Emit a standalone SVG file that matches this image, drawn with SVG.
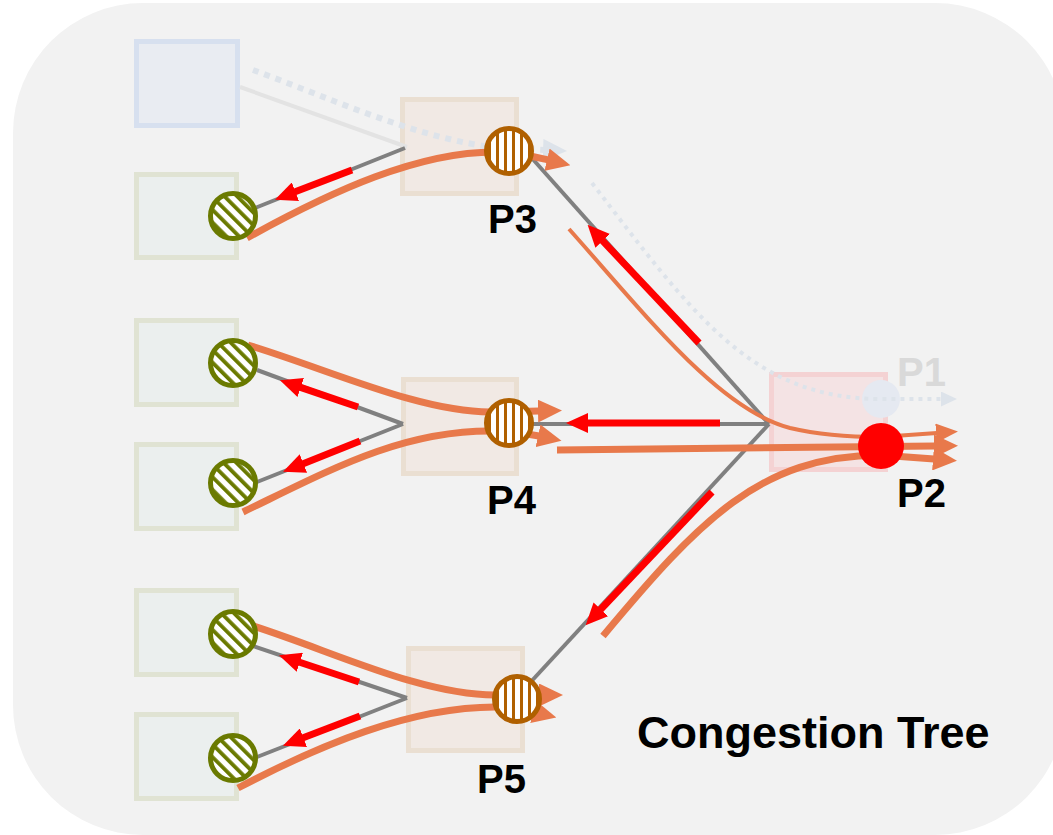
<svg xmlns="http://www.w3.org/2000/svg" width="1053" height="835" viewBox="0 0 1053 835">
  <style>
    .host { fill: #ebefee; stroke: #e0e3d3; stroke-width: 5; }
    .switch { fill: #f1e9e4; stroke: #eadfd2; stroke-width: 5; }
    .link { fill: none; stroke: #808080; stroke-width: 4; }
    .flow { fill: none; stroke: #e8794b; stroke-width: 7; }
    .flow-thin { fill: none; stroke: #e8794b; stroke-width: 4; }
    .pause { fill: none; stroke: #ff0000; stroke-width: 7; }
    .host-port { fill: url(#hatch-host); stroke: #6a7a00; stroke-width: 5; }
    .sw-port { fill: url(#hatch-port); stroke: #b06000; stroke-width: 5; }
    .label { font-family: "Liberation Sans", Arial, sans-serif; font-weight: bold; font-size: 40px; fill: #000; }
  </style>
  <defs>
    <pattern id="hatch-host" patternUnits="userSpaceOnUse" width="9" height="9" patternTransform="rotate(-45)">
      <rect width="9" height="9" fill="#ffffff"/>
      <rect width="3.8" height="9" fill="#6a7a00"/>
    </pattern>
    <pattern id="hatch-port" patternUnits="userSpaceOnUse" width="8" height="8">
      <rect width="8" height="8" fill="#ffffff"/>
      <rect width="3" height="8" fill="#b06000"/>
    </pattern>
    <marker id="arrow-flow" markerUnits="userSpaceOnUse" viewBox="0 0 24 23" markerWidth="24" markerHeight="23" refX="1" refY="11.5" orient="auto">
      <path d="M0,0 L24,11.5 L0,23 Z" fill="#e8794b"/>
    </marker>
    <marker id="arrow-flow-sm" markerUnits="userSpaceOnUse" viewBox="0 0 22 19" markerWidth="22" markerHeight="19" refX="1" refY="9.5" orient="auto">
      <path d="M0,0 L22,9.5 L0,19 Z" fill="#e8794b"/>
    </marker>
    <marker id="arrow-pause" markerUnits="userSpaceOnUse" viewBox="0 0 22 20" markerWidth="22" markerHeight="20" refX="1" refY="10" orient="auto">
      <path d="M0,0 L22,10 L0,20 Z" fill="#ff0000"/>
    </marker>
    <marker id="arrow-faded" markerUnits="userSpaceOnUse" viewBox="0 0 24 22" markerWidth="24" markerHeight="22" refX="1" refY="11" orient="auto">
      <path d="M0,0 L24,11 L0,22 Z" fill="#dde3ea"/>
    </marker>
    <marker id="arrow-faded-sm" markerUnits="userSpaceOnUse" viewBox="0 0 16 15" markerWidth="16" markerHeight="15" refX="1" refY="7.5" orient="auto">
      <path d="M0,0 L16,7.5 L0,15 Z" fill="#dde3ea"/>
    </marker>
  </defs>

  <!-- panel -->
  <rect x="13" y="3" width="1052" height="832" rx="130" ry="130" fill="#f2f2f2"/>

  <!-- hosts -->
  <g id="host-idle">
    <rect x="136.5" y="41.5" width="101" height="84" fill="#e9ecf2" stroke="#d7e0ef" stroke-width="5"/>
  </g>
  <g id="host-1"><rect class="host" x="136.5" y="174.5" width="100" height="83"/></g>
  <g id="host-2"><rect class="host" x="136.5" y="320.5" width="100" height="84"/></g>
  <g id="host-3"><rect class="host" x="136.5" y="444.5" width="100" height="84"/></g>
  <g id="host-4"><rect class="host" x="136.5" y="590.5" width="100" height="84"/></g>
  <g id="host-5"><rect class="host" x="136.5" y="714.5" width="100" height="84"/></g>

  <!-- switches -->
  <g id="switch-p3"><rect class="switch" x="402.5" y="99.5" width="114" height="94"/></g>
  <g id="switch-p4"><rect class="switch" x="403.5" y="379.5" width="113" height="94"/></g>
  <g id="switch-p5"><rect class="switch" x="408.5" y="648.5" width="114" height="102"/></g>
  <g id="switch-root">
    <rect x="771.5" y="374.5" width="114" height="95" fill="#f4e3e4" stroke="#f4d2d3" stroke-width="5"/>
    <circle id="port-p1" cx="881" cy="399" r="19" fill="#e5e9f1"/>
  </g>

  <g id="connectors">
    <!-- idle path (faded) -->
    <line x1="240" y1="87" x2="407" y2="147" stroke="#e3e3e3" stroke-width="4"/>
    <path d="M253,70 C330,98 420,140 500,148 L544,150" fill="none" stroke="#dde3ea" stroke-width="6" stroke-dasharray="6 6" marker-end="url(#arrow-faded)"/>
    <path d="M592,183 C690,310 750,399 881,399 L942,399" fill="none" stroke="#dde3ea" stroke-width="4" stroke-dasharray="4 5" marker-end="url(#arrow-faded-sm)"/>

    <!-- links -->
    <line class="link" x1="405" y1="148" x2="255" y2="208"/>
    <line class="link" x1="530" y1="156" x2="769" y2="424"/>
    <line class="link" x1="509" y1="424" x2="769" y2="424"/>
    <line class="link" x1="769" y1="424" x2="515" y2="699"/>
    <line class="link" x1="403" y1="424" x2="257" y2="370"/>
    <line class="link" x1="403" y1="424" x2="257" y2="482"/>
    <line class="link" x1="407" y1="698" x2="253" y2="646"/>
    <line class="link" x1="407" y1="698" x2="257" y2="757"/>

    <!-- flows -->
    <path class="flow" d="M247,238 C330,192 420,150 500,152 C520,153 535,157 548,160" marker-end="url(#arrow-flow)"/>
    <path class="flow" d="M248,345 C330,370 420,412 490,412 L539,411" marker-end="url(#arrow-flow)"/>
    <path class="flow" d="M243,512 C330,470 400,431 490,431 C510,431 525,433 539,436" marker-end="url(#arrow-flow)"/>
    <path class="flow" d="M250,625 C330,650 420,695 495,695 L540,695" marker-end="url(#arrow-flow)"/>
    <path class="flow" d="M238,788 C320,745 410,707 495,707 C510,707 522,709 534,712" marker-end="url(#arrow-flow)"/>
    <path class="flow-thin" d="M569,229 C650,320 720,410 790,428 C820,435 850,437 880,437 L937,433" marker-end="url(#arrow-flow-sm)"/>
    <path class="flow" d="M557,450 L935,446" marker-end="url(#arrow-flow)"/>
    <path class="flow" d="M603,636 C700,520 760,456 880,455 L934,459" marker-end="url(#arrow-flow)"/>

    <!-- pause back-pressure -->
    <line class="pause" x1="352" y1="170" x2="294.5" y2="192.1" marker-end="url(#arrow-pause)"/>
    <line class="pause" x1="699" y1="343" x2="602" y2="240.1" marker-end="url(#arrow-pause)"/>
    <line class="pause" x1="720" y1="423" x2="587" y2="423" marker-end="url(#arrow-pause)"/>
    <line class="pause" x1="712" y1="492" x2="600.1" y2="610" marker-end="url(#arrow-pause)"/>
    <line class="pause" x1="358" y1="407" x2="299.8" y2="387.1" marker-end="url(#arrow-pause)"/>
    <line class="pause" x1="360" y1="441" x2="302.5" y2="463.9" marker-end="url(#arrow-pause)"/>
    <line class="pause" x1="359" y1="682" x2="298.9" y2="662" marker-end="url(#arrow-pause)"/>
    <line class="pause" x1="360" y1="716" x2="302.5" y2="738.1" marker-end="url(#arrow-pause)"/>
  </g>

  <!-- host ports -->
  <g id="nic-1"><circle class="host-port" cx="233" cy="216" r="22.5"/></g>
  <g id="nic-2"><circle class="host-port" cx="233" cy="363" r="22.5"/></g>
  <g id="nic-3"><circle class="host-port" cx="233" cy="483" r="22.5"/></g>
  <g id="nic-4"><circle class="host-port" cx="233" cy="634" r="22.5"/></g>
  <g id="nic-5"><circle class="host-port" cx="233" cy="758" r="22.5"/></g>

  <!-- switch ports -->
  <g id="port-p3">
    <circle class="sw-port" cx="509" cy="151" r="22.5"/>
    <text class="label" x="488" y="233">P3</text>
  </g>
  <g id="port-p4">
    <circle class="sw-port" cx="509" cy="423" r="22.5"/>
    <text class="label" x="487" y="514">P4</text>
  </g>
  <g id="port-p5">
    <circle class="sw-port" cx="517" cy="699" r="22.5"/>
    <text class="label" x="477" y="793">P5</text>
  </g>
  <g id="port-p2">
    <circle cx="881" cy="446" r="23" fill="#ff0000"/>
    <text class="label" x="897" y="507">P2</text>
  </g>
  <g id="label-p1">
    <text class="label" x="897" y="386" style="fill:#d9d9d9">P1</text>
  </g>

  <g id="title">
    <text x="637" y="748" font-family="Liberation Sans, Arial, sans-serif" font-weight="bold" font-size="45" fill="#000">Congestion Tree</text>
  </g>
</svg>
